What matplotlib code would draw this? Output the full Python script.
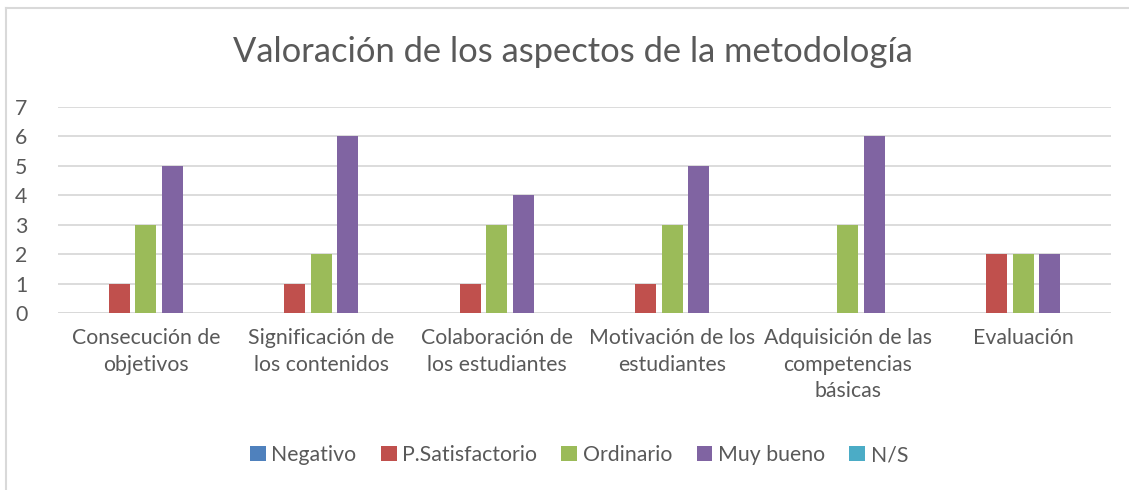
import matplotlib
matplotlib.use("Agg")
import matplotlib.pyplot as plt
import numpy as np

plt.rcParams["font.family"] = ["Lato", "DejaVu Sans"]

categories = ["Consecución de\nobjetivos", "Significación de\nlos contenidos",
              "Colaboración de\nlos estudiantes", "Motivación de los\nestudiantes",
              "Adquisición de las\ncompetencias\nbásicas", "Evaluación"]
series = ["Negativo", "P.Satisfactorio", "Ordinario", "Muy bueno", "N/S"]
negativo = [0, 0, 0, 0, 0, 0]
p_satisfactorio = [1, 1, 1, 1, 0, 2]
ordinario = [3, 2, 3, 3, 3, 2]
muy_bueno = [5, 6, 4, 5, 6, 2]
n_s = [0, 0, 0, 0, 0, 0]
colors = ["#4F81BD", "#C0504D", "#9BBB59", "#8064A2", "#4BACC6"]

TXT = "#595959"
W, H = 1129, 490
fig = plt.figure(figsize=(W / 100, H / 100), dpi=100)
ax = fig.add_axes([58 / W, 1 - 313 / H, (1111 - 58) / W, (313 - 107) / H])

x = np.arange(len(categories))
step, bw = 0.152, 0.12
for i, (name, vals) in enumerate(zip(series, [negativo, p_satisfactorio, ordinario, muy_bueno, n_s])):
    ax.bar(x + (i - 2) * step, vals, width=bw, color=colors[i], label=name, zorder=3)

ax.set_xlim(-0.5, len(categories) - 0.5)
ax.set_ylim(0, 7)
ax.set_yticks(range(8))
ax.yaxis.grid(True, color="#D9D9D9", lw=1.3, zorder=0)
for s in ax.spines.values():
    s.set_visible(False)
ax.axhline(0, color="#D9D9D9", lw=1.3, zorder=1)
ax.tick_params(axis="both", length=0, colors=TXT, labelsize=15.3)
ax.tick_params(axis="x", pad=11)
ax.tick_params(axis="y", pad=31)
ax.set_xticks(x)
ax.set_xticklabels(categories, linespacing=1.4)
for lbl in ax.get_yticklabels():
    lbl.set_horizontalalignment("left")

fig.text(572.5 / W, 1 - 52 / H, "Valoración de los aspectos de la metodología",
         ha="center", va="center", fontsize=24.8, color=TXT)

fig.legend(loc="center", bbox_to_anchor=(579 / W, 1 - 455 / H), ncol=5, frameon=False,
           fontsize=15.3, labelcolor=TXT, handlelength=0.75, handleheight=0.75,
           handletextpad=0.25, columnspacing=1.15)

# chart border
fig.add_artist(plt.Line2D([6 / W, 6 / W], [0, 1 - 8 / H], color="#D9D9D9", lw=1.5))
fig.add_artist(plt.Line2D([6 / W, 1], [1 - 8 / H, 1 - 8 / H], color="#D9D9D9", lw=1.5))

fig.savefig("out.png", dpi=100)
